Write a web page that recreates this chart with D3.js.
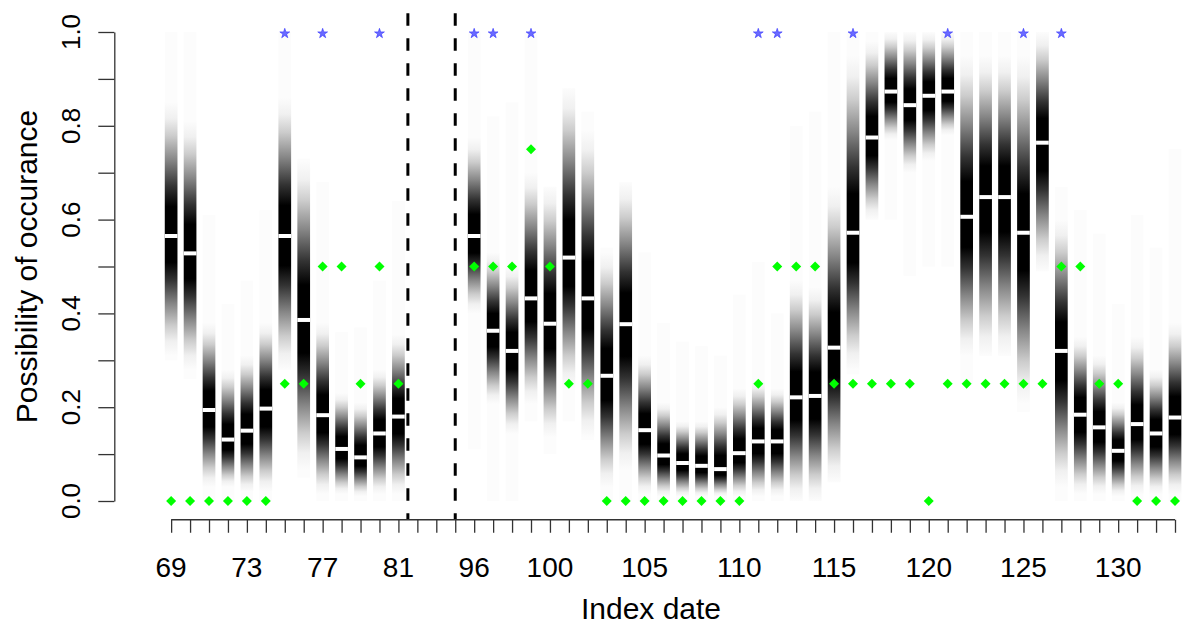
<!DOCTYPE html>
<html>
<head>
<meta charset="utf-8">
<script src="https://cdn.jsdelivr.net/npm/d3@7.9.0/dist/d3.min.js"></script>
<style>
  body { margin: 0; background: #fff; }
  svg { display: block; }
  text { font-family: "Liberation Sans", Arial, sans-serif; fill: #000; }
</style>
</head>
<body>
<svg id="chart" width="1182" height="628"></svg>
<script>
// index dates shown on the x axis (two runs with a break between 81 and 96)
const dates = [69, 70, 71, 72, 73, 74, 75, 76, 77, 78, 79, 80, 81,
  96, 97, 98, 99, 100, 101, 102, 103, 104, 105, 106, 107, 108, 109, 110,
  111, 112, 113, 114, 115, 116, 117, 118, 119, 120, 121, 122, 123, 124,
  125, 126, 127, 128, 129, 130, 131, 132, 133];

// posterior median per date (white line)
const median = [0.565, 0.528, 0.194, 0.131, 0.150, 0.197, 0.565, 0.386, 0.183, 0.111, 0.093, 0.144, 0.180,
  0.565, 0.363, 0.320, 0.432, 0.378, 0.519, 0.432, 0.267, 0.377, 0.151, 0.097, 0.081, 0.075, 0.068, 0.102,
  0.127, 0.127, 0.221, 0.224, 0.327, 0.572, 0.775, 0.873, 0.844, 0.864, 0.873, 0.606, 0.648, 0.648,
  0.572, 0.764, 0.320, 0.184, 0.157, 0.107, 0.164, 0.144, 0.178];

// where the shading fades out above / below the median
const upperFade = [0.85, 0.81, 0.38, 0.28, 0.31, 0.38, 0.86, 0.725, 0.38, 0.23, 0.21, 0.28, 0.355,
  0.775, 0.53, 0.50, 0.70, 0.67, 0.88, 0.79, 0.53, 0.68, 0.31, 0.21, 0.17, 0.17, 0.20, 0.24,
  0.255, 0.24, 0.47, 0.456, 0.67, 0.95, 0.98, 1.0, 1.0, 1.0, 1.0, 0.95, 0.95, 0.95,
  0.95, 1.0, 0.60, 0.35, 0.31, 0.21, 0.35, 0.28, 0.38];
const lowerFade = [0.31, 0.28, 0.03, 0.03, 0.02, 0.02, 0.28, 0.065, 0.015, 0.015, 0.01, 0.015, 0.015,
  0.40, 0.207, 0.143, 0.207, 0.136, 0.24, 0.136, 0.03, 0.065, 0.015, 0.01, 0.01, 0.01, 0.01, 0.01,
  0.01, 0.01, 0.0, 0.0, 0.04, 0.28, 0.60, 0.77, 0.70, 0.725, 0.78, 0.31, 0.31, 0.31,
  0.207, 0.49, 0.03, 0.015, 0.015, 0.01, 0.015, 0.015, 0.015];

// full sampled range (very faint column behind the shading)
const rangeHi = [1.0, 1.0, 0.61, 0.42, 0.47, 0.62, 1.0, 0.73, 0.68, 0.36, 0.37, 0.47, 0.64,
  1.0, 0.82, 0.85, 1.0, 0.67, 0.88, 0.83, 0.54, 0.67, 0.53, 0.38, 0.34, 0.33, 0.31, 0.44,
  0.51, 0.40, 0.80, 0.83, 1.0, 1.0, 1.0, 1.0, 1.0, 1.0, 1.0, 1.0, 1.0, 1.0,
  1.0, 1.0, 0.67, 0.62, 0.57, 0.42, 0.61, 0.54, 0.75];
const rangeLo = [0.30, 0.26, 0, 0, 0, 0, 0.28, 0.05, 0, 0, 0, 0, 0,
  0.11, 0, 0, 0.17, 0.10, 0.17, 0.13, 0, 0, 0, 0, 0, 0, 0, 0,
  0, 0, 0, 0, 0.04, 0.27, 0.60, 0.60, 0.48, 0.50, 0.50, 0.25, 0.31, 0.31,
  0.19, 0.50, 0, 0, 0, 0, 0, 0, 0];

// observed values (green diamonds)
const observed = [0, 0, 0, 0, 0, 0, 0.25, 0.25, 0.5, 0.5, 0.25, 0.5, 0.25,
  0.5, 0.5, 0.5, 0.75, 0.5, 0.25, 0.25, 0, 0, 0, 0, 0, 0, 0, 0,
  0.25, 0.5, 0.5, 0.5, 0.25, 0.25, 0.25, 0.25, 0.25, 0, 0.25, 0.25, 0.25, 0.25,
  0.25, 0.25, 0.5, 0.5, 0.25, 0.25, 0, 0, 0];

// dates marked with a blue star at the top
const flagged = [75, 77, 80, 96, 97, 99, 111, 112, 116, 121, 125, 127];

const xLabels = [69, 73, 77, 81, 96, 100, 105, 110, 115, 120, 125, 130];
const yTicks = [0, 0.1, 0.2, 0.3, 0.4, 0.5, 0.6, 0.7, 0.8, 0.9, 1.0];
const yLabels = [0, 0.2, 0.4, 0.6, 0.8, 1.0];

// slot positions: 3 empty slots between the two runs
const gapSlots = 3;
const slotOf = (i) => (dates[i] <= 81 ? i : i + gapSlots);
const breakSlots = [12.5, 15];
const nSlots = dates.length + gapSlots;

const svg = d3.select('#chart');
const x = d3.scaleLinear().domain([-3, nSlots - 1]).range([114.3, 1175]);
const y = d3.scaleLinear().domain([0, 1]).range([501, 32]);
const barW = 12.7;

const rows = dates.map((d, i) => ({
  date: d, slot: slotOf(i), med: median[i], hi: upperFade[i], lo: lowerFade[i],
  rHi: rangeHi[i], rLo: rangeLo[i], obs: observed[i]
}));

// shading profile: distance fraction from median -> grey level
const profile = [[0, 0], [0.22, 0], [0.37, 0.2], [0.57, 0.53], [0.75, 0.8], [0.88, 0.94], [1, 0.99]];
const grey = (g) => { const c = Math.round(255 * g); return d3.rgb(c, c, c).formatHex(); };

const defs = svg.append('defs');
rows.forEach((r, i) => {
  const bot = y(r.lo), my = y(r.med);
  const grad = defs.append('linearGradient')
    .attr('id', 'g' + i)
    .attr('gradientUnits', 'userSpaceOnUse')
    .attr('x1', 0).attr('x2', 0)
    .attr('y1', y(r.hi)).attr('y2', bot);
  const m1 = (my - y(r.hi)) / (bot - y(r.hi));
  profile.slice().reverse().forEach(([f, g]) => {
    grad.append('stop').attr('offset', m1 * (1 - f)).attr('stop-color', grey(g));
  });
  profile.forEach(([f, g]) => {
    grad.append('stop').attr('offset', m1 + (1 - m1) * f).attr('stop-color', grey(g));
  });
});

// faint full-range columns
svg.append('g').selectAll('rect')
  .data(rows)
  .join('rect')
  .attr('x', (d) => x(d.slot) - barW / 2)
  .attr('width', barW)
  .attr('y', (d) => y(d.rHi))
  .attr('height', (d) => y(d.rLo) - y(d.rHi))
  .attr('fill', '#fcfcfc');

// shaded density columns
svg.append('g').selectAll('rect')
  .data(rows)
  .join('rect')
  .attr('x', (d) => x(d.slot) - barW / 2)
  .attr('width', barW)
  .attr('y', (d) => y(Math.min(1, d.hi)))
  .attr('height', (d) => y(d.lo) - y(Math.min(1, d.hi)))
  .attr('fill', (d, i) => `url(#g${i})`);

// median lines
svg.append('g').selectAll('line')
  .data(rows)
  .join('line')
  .attr('x1', (d) => x(d.slot) - barW / 2)
  .attr('x2', (d) => x(d.slot) + barW / 2)
  .attr('y1', (d) => y(d.med))
  .attr('y2', (d) => y(d.med))
  .attr('stroke', '#fff')
  .attr('stroke-width', 4);

// break lines
svg.append('g').selectAll('line')
  .data(breakSlots)
  .join('line')
  .attr('x1', (d) => x(d)).attr('x2', (d) => x(d))
  .attr('y1', y(1.04)).attr('y2', y(-0.04))
  .attr('stroke', '#000')
  .attr('stroke-width', 3)
  .attr('stroke-dasharray', '12.5,12.5');

// observed diamonds
svg.append('g').selectAll('path')
  .data(rows)
  .join('path')
  .attr('d', d3.symbol(d3.symbolSquare, 50)())
  .attr('transform', (d) => `translate(${x(d.slot)},${y(d.obs)}) rotate(45)`)
  .attr('fill', '#00ff00');

// stars
const starRows = rows.filter((r) => flagged.includes(r.date));
svg.append('g').selectAll('path')
  .data(starRows)
  .join('path')
  .attr('d', d3.symbol(d3.symbolStar, 30)())
  .attr('transform', (d) => `translate(${x(d.slot)},${y(1) + 1.5})`)
  .attr('fill', '#6a6aff')
  .attr('stroke', '#3030ff')
  .attr('stroke-width', 0.6);

// x axis
const slots = d3.range(0, nSlots);
const xAxis = svg.append('g')
  .attr('transform', `translate(0,${y(-0.04)})`)
  .call(d3.axisBottom(x).tickValues(slots).tickSize(13).tickSizeOuter(0).tickFormat(''));
xAxis.select('.domain').remove();
xAxis.append('line')
  .attr('x1', x(0)).attr('x2', x(nSlots - 1))
  .attr('stroke', '#333').attr('stroke-width', 1.3);
xAxis.selectAll('.tick line').attr('stroke', '#333').attr('stroke-width', 1.3);

svg.append('g').selectAll('text')
  .data(xLabels)
  .join('text')
  .attr('x', (d) => x(slotOf(dates.indexOf(d))))
  .attr('y', 577)
  .attr('text-anchor', 'middle')
  .style('font-size', '28px')
  .text((d) => d);

// y axis
const yAxis = svg.append('g')
  .attr('transform', `translate(${x(-3)},0)`)
  .call(d3.axisLeft(y).tickValues(yTicks).tickSize(16).tickSizeOuter(0).tickFormat(''));
yAxis.select('.domain').attr('stroke', '#333').attr('stroke-width', 1.3);
yAxis.selectAll('.tick line').attr('stroke', '#333').attr('stroke-width', 1.3);

svg.append('g').selectAll('text')
  .data(yLabels)
  .join('text')
  .attr('transform', (d) => `translate(80,${y(d)}) rotate(-90)`)
  .attr('text-anchor', 'middle')
  .style('font-size', '26px')
  .text((d) => d3.format('.1f')(d));

// axis titles
svg.append('text')
  .attr('x', 651).attr('y', 619)
  .attr('text-anchor', 'middle')
  .style('font-size', '30px')
  .text('Index date');

svg.append('text')
  .attr('transform', `translate(37,${(y(0) + y(1)) / 2}) rotate(-90)`)
  .attr('text-anchor', 'middle')
  .style('font-size', '30px')
  .text('Possibility of occurance');
</script>
</body>
</html>
